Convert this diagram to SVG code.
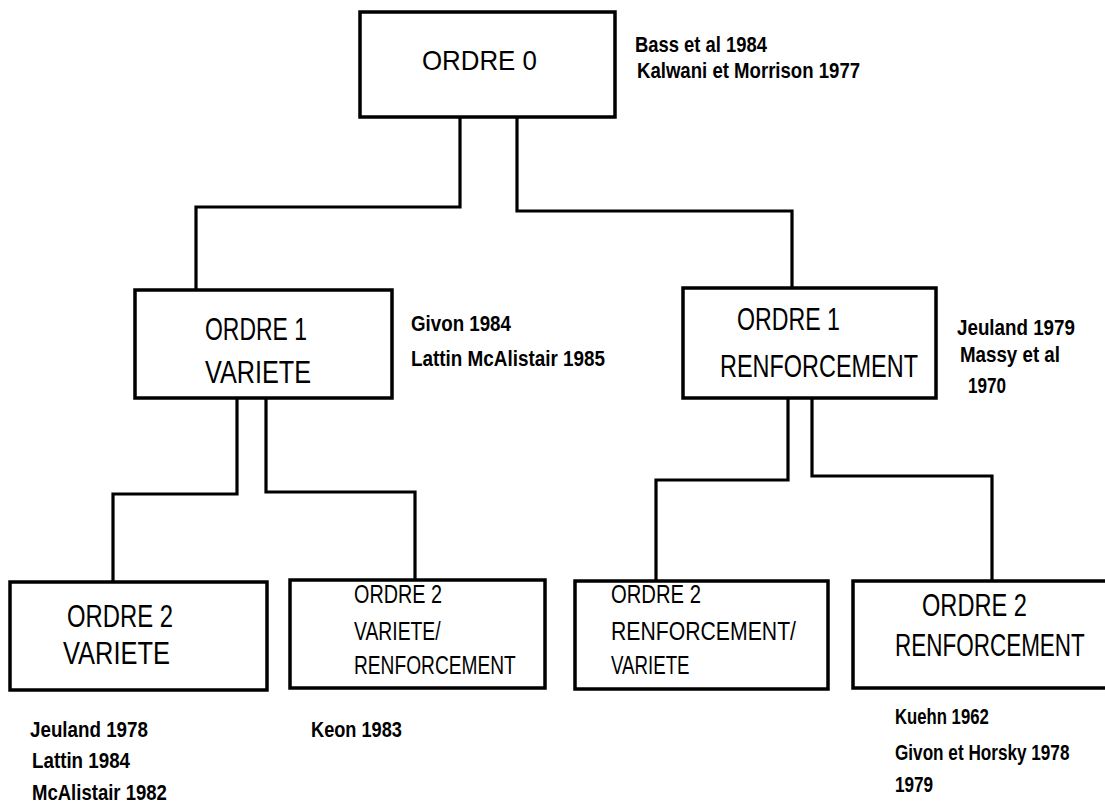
<svg xmlns="http://www.w3.org/2000/svg" width="1105" height="806" viewBox="0 0 1105 806">
<style>
.box{fill:#fff;stroke:#000;stroke-width:3.5}
.conn path{fill:none;stroke:#000;stroke-width:3.2}
.lbl{font-family:"Liberation Sans",Arial,sans-serif;fill:#000}
.cit{font-family:"Liberation Sans",Arial,sans-serif;font-weight:bold;font-size:22px;fill:#000}
</style>
<rect width="1105" height="806" fill="#fff"/>
<g id="connectors" class="conn">
<path d="M460,117 V207 H196 V290"/>
<path d="M517,117 V211 H792 V288"/>
<path d="M237,398 V494 H113 V582"/>
<path d="M266,398 V492 H415 V580"/>
<path d="M788,398 V480 H656 V581"/>
<path d="M812,398 V476 H992 V581"/>
</g>
<g id="ordre0">
<rect class="box" x="360" y="12" width="255" height="105"/>
<text class="lbl" font-size="28" transform="translate(422,70) scale(0.924,1)">ORDRE 0</text>
</g>
<g id="cit0">
<text class="cit" transform="translate(635,52) scale(0.837,1)">Bass et al 1984</text>
<text class="cit" transform="translate(637,78) scale(0.845,1)">Kalwani et Morrison 1977</text>
</g>
<g id="ordre1-variete">
<rect class="box" x="135" y="290" width="257" height="108"/>
<text class="lbl" font-size="32" transform="translate(205,340) scale(0.717,1)">ORDRE 1</text>
<text class="lbl" font-size="32" transform="translate(205,383) scale(0.789,1)">VARIETE</text>
</g>
<g id="cit1v">
<text class="cit" transform="translate(411,331) scale(0.852,1)">Givon 1984</text>
<text class="cit" transform="translate(411,366) scale(0.858,1)">Lattin McAlistair 1985</text>
</g>
<g id="ordre1-renforcement">
<rect class="box" x="683" y="288" width="253" height="110"/>
<text class="lbl" font-size="32" transform="translate(737,330) scale(0.724,1)">ORDRE 1</text>
<text class="lbl" font-size="32" transform="translate(720,377) scale(0.733,1)">RENFORCEMENT</text>
</g>
<g id="cit1r">
<text class="cit" transform="translate(957,335) scale(0.854,1)">Jeuland 1979</text>
<text class="cit" transform="translate(960,362) scale(0.852,1)">Massy et al</text>
<text class="cit" transform="translate(968,393) scale(0.777,1)">1970</text>
</g>
<g id="ordre2-variete">
<rect class="box" x="10" y="582" width="257" height="108"/>
<text class="lbl" font-size="32" transform="translate(67,627) scale(0.745,1)">ORDRE 2</text>
<text class="lbl" font-size="32" transform="translate(63,664) scale(0.796,1)">VARIETE</text>
</g>
<g id="ordre2-variete-renforcement">
<rect class="box" x="290" y="580" width="255" height="108"/>
<text class="lbl" font-size="25" transform="translate(354,603) scale(0.792,1)">ORDRE 2</text>
<text class="lbl" font-size="25" transform="translate(354,640) scale(0.773,1)">VARIETE/</text>
<text class="lbl" font-size="25" transform="translate(354,674) scale(0.767,1)">RENFORCEMENT</text>
</g>
<g id="ordre2-renforcement-variete">
<rect class="box" x="575" y="581" width="253" height="108"/>
<text class="lbl" font-size="25" transform="translate(611,603) scale(0.81,1)">ORDRE 2</text>
<text class="lbl" font-size="25" transform="translate(611,640) scale(0.849,1)">RENFORCEMENT/</text>
<text class="lbl" font-size="25" transform="translate(611,674) scale(0.748,1)">VARIETE</text>
</g>
<g id="ordre2-renforcement">
<rect class="box" x="853" y="581" width="270" height="107"/>
<text class="lbl" font-size="32" transform="translate(922,616) scale(0.738,1)">ORDRE 2</text>
<text class="lbl" font-size="32" transform="translate(895,656) scale(0.703,1)">RENFORCEMENT</text>
</g>
<g id="cit2v">
<text class="cit" transform="translate(30,737) scale(0.854,1)">Jeuland 1978</text>
<text class="cit" transform="translate(32,768) scale(0.853,1)">Lattin 1984</text>
<text class="cit" transform="translate(32,800) scale(0.843,1)">McAlistair 1982</text>
</g>
<g id="cit2vr">
<text class="cit" transform="translate(311,737) scale(0.827,1)">Keon 1983</text>
</g>
<g id="cit2r">
<text class="cit" transform="translate(895,724) scale(0.76,1)">Kuehn 1962</text>
<text class="cit" transform="translate(895,760) scale(0.78,1)">Givon et Horsky 1978</text>
<text class="cit" transform="translate(895,792) scale(0.78,1)">1979</text>
</g>
</svg>
